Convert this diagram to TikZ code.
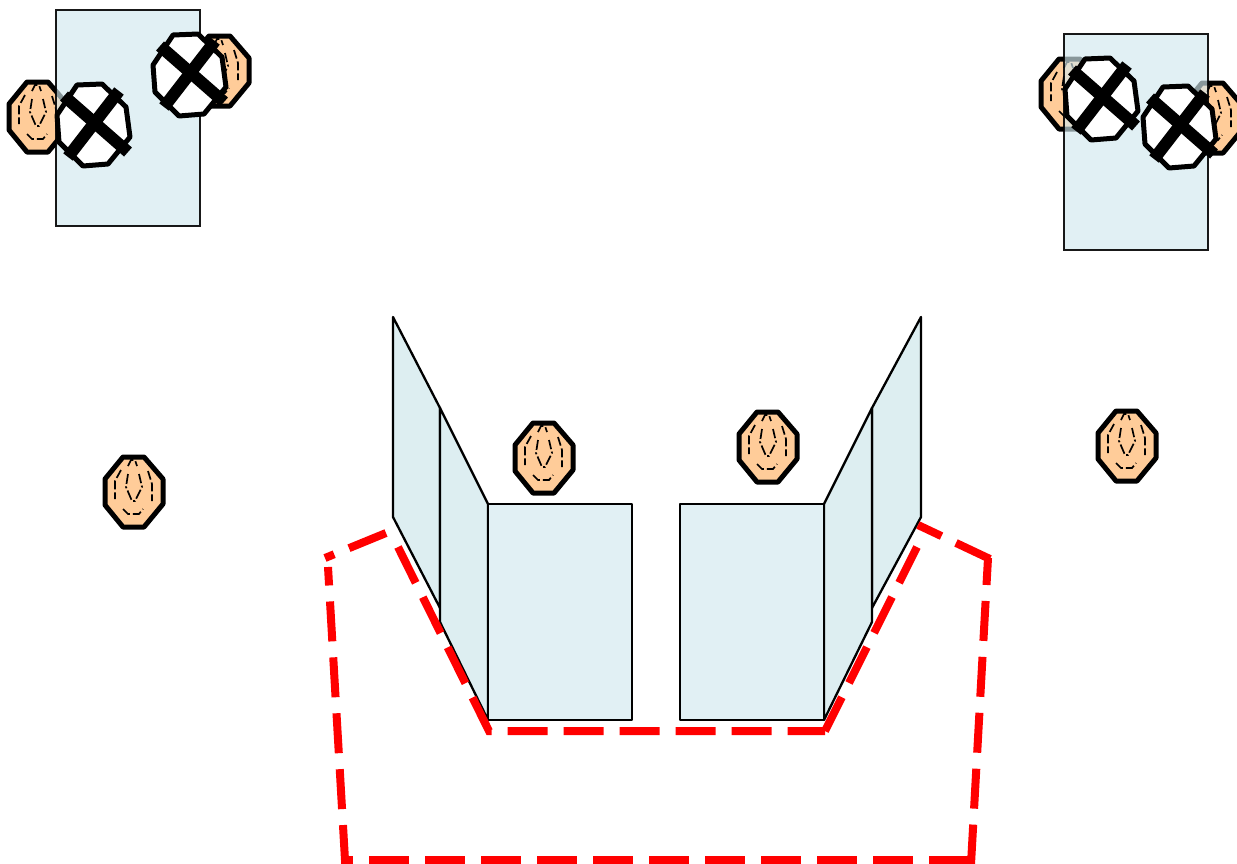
\documentclass[tikz,border=0pt]{standalone}
\definecolor{panelfront}{HTML}{E1F0F4}
\definecolor{panelglass}{HTML}{D1E8EE}
\definecolor{panelside}{HTML}{DDEEF1}
\definecolor{skin}{HTML}{FFCC99}
\definecolor{zonered}{HTML}{FF0000}
\tikzset{
  panel/.style={draw=black,line width=2.3pt,line join=round,fill=panelfront},
  sidepanel/.style={draw=black,line width=2.3pt,line join=round,fill=panelside},
  glasspanel/.style={draw=black,line width=2.3pt,fill=panelglass,fill opacity=0.65,draw opacity=0.9},
  headshape/.style={draw=black,line width=5pt,line join=round,fill=skin},
  blockedshape/.style={draw=black,line width=5pt,line join=round,fill=white},
  crossbar/.style={draw=black,line width=12pt},
  innerdash/.style={draw=black,line width=1.7pt,dash pattern=on 9pt off 3pt},
  innerdashdot/.style={draw=black,line width=1.7pt,dash pattern=on 10pt off 2.5pt on 2pt off 2.5pt},
  zone/.style={draw=zonered,line width=8pt,line join=miter,dash pattern=on 40pt off 16pt},
}
\newcommand{\headat}[2]{%
  \begin{scope}[shift={(#1,#2)}]
    \draw[headshape] (-11,-35)--(10,-35)--(29,-13)--(29,12)--(10,35)--(-11,35)--(-29,13)--(-29,-13)--cycle;
    \draw[innerdash] (-6,-26)--(-3,-32)--(1,-32)--(3,-26);
    \draw[innerdashdot] (-6,-18)--(-8,-5)--(-2,9)--(1,9)--(8,-5)--(5,-18);
    \draw[innerdash] (-13,-22)--(-19,-11)--(-19,7);
    \draw[innerdash] (14,-21)--(18,-8)--(18,9);
    \draw[innerdash] (-11,17)--(-6,22)--(5,22)--(9,17);
  \end{scope}}
\newcommand{\blockedat}[2]{%
  \begin{scope}[shift={(#1,#2)}]
    \draw[blockedshape] (-16,-40)--(9,-41)--(33,-18)--(37,12)--(15,39)--(-10,41)--(-34,17)--(-36,-10)--cycle;
    \draw[crossbar] (-29,-29)--(35,27);
    \draw[crossbar] (26,-34)--(-25,32);
  \end{scope}}
\begin{document}
\begin{tikzpicture}[x=1pt,y=-1pt]
\useasboundingbox (0,0) rectangle (1237,863);
\clip (0,0) rectangle (1237,863);
% top groups
\headat{38}{117}
\headat{220}{71}
\headat{1070}{94}
\headat{1213}{118}
\draw[glasspanel] (56,10) rectangle (200,226);
\draw[glasspanel] (1064,34) rectangle (1208,250);
\blockedat{93}{125}
\blockedat{189}{75}
\blockedat{1101}{99}
\blockedat{1179}{127}
% side panels
\draw[sidepanel] (393,317)--(440,408)--(440,608)--(393,517)--cycle;
\draw[sidepanel] (440,408)--(488,504)--(488,720)--(440,622)--cycle;
\draw[sidepanel] (921,317)--(872,408)--(872,608)--(921,517)--cycle;
\draw[sidepanel] (872,408)--(824,504)--(824,720)--(872,622)--cycle;
% front panels
\draw[panel] (488,504) rectangle (632,720);
\draw[panel] (680,504) rectangle (824,720);
% free heads
\headat{134}{492}
\headat{544}{458}
\headat{768}{447}
\headat{1127}{446}
% red dashed zone
\draw[zone] (398,547)--(489,731)--(825,731);
\draw[zone] (917,547)--(825,731);
\draw[zone,dash phase=14pt] (918,525)--(990,559);
\draw[zone,dash phase=13pt] (988,558)--(971,864);
\draw[zone,dash phase=28pt] (341,860)--(975,860);
\draw[zone,dash phase=5pt] (345,860)--(328,567);
\draw[zone] (386,533)--(325,558);
\end{tikzpicture}
\end{document}
